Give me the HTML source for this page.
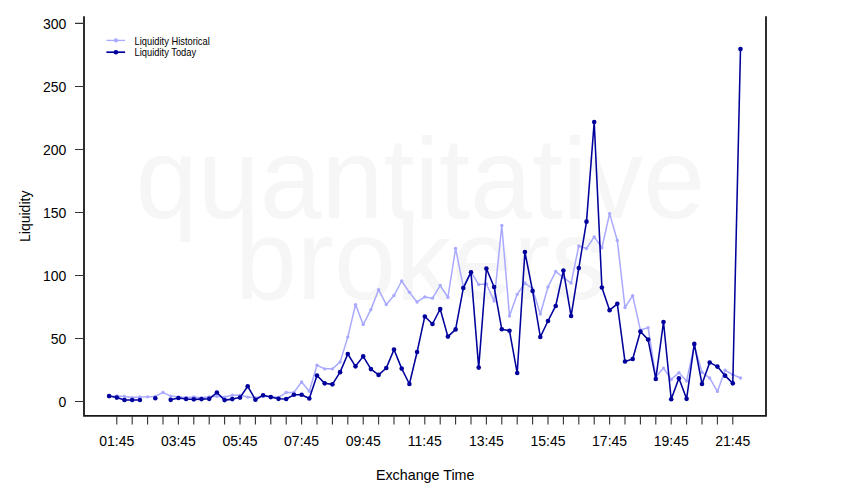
<!DOCTYPE html>
<html><head><meta charset="utf-8"><style>
html,body{margin:0;padding:0;background:#fff;}
body{width:850px;height:500px;overflow:hidden;}
svg{display:block;font-family:"Liberation Sans",sans-serif;}
</style></head><body>
<svg width="850" height="500" viewBox="0 0 850 500" font-family="Liberation Sans, sans-serif">
<rect width="850" height="500" fill="#fff"/>
<g fill="#f6f6f6" font-size="115" text-anchor="middle" transform="translate(420.5 0) scale(0.968 1)"><text x="0" y="218">quantitative</text><text x="0" y="299">brokers</text></g>
<path d="M84 16.2 V415.8 H766 V16.2" fill="none" stroke="#181818" stroke-width="1.8"/>
<path d="M75 401.50 H84 M75 338.49 H84 M75 275.47 H84 M75 212.46 H84 M75 149.44 H84 M75 86.43 H84 M75 23.41 H84 " stroke="#333" stroke-width="1.1"/>
<g font-size="14" text-anchor="end" fill="#000"><text x="66.4" y="407.00">0</text><text x="66.4" y="343.99">50</text><text x="66.4" y="280.97">100</text><text x="66.4" y="217.96">150</text><text x="66.4" y="154.94">200</text><text x="66.4" y="91.93">250</text><text x="66.4" y="28.91">300</text></g>
<path d="M116.80 415.8 V424.5 M132.20 415.8 V424.5 M147.60 415.8 V424.5 M163.00 415.8 V424.5 M178.40 415.8 V424.5 M193.80 415.8 V424.5 M209.20 415.8 V424.5 M224.60 415.8 V424.5 M240.00 415.8 V424.5 M255.40 415.8 V424.5 M270.80 415.8 V424.5 M286.20 415.8 V424.5 M301.60 415.8 V424.5 M317.00 415.8 V424.5 M332.40 415.8 V424.5 M347.80 415.8 V424.5 M363.20 415.8 V424.5 M378.60 415.8 V424.5 M394.00 415.8 V424.5 M409.40 415.8 V424.5 M424.80 415.8 V424.5 M440.20 415.8 V424.5 M455.60 415.8 V424.5 M471.00 415.8 V424.5 M486.40 415.8 V424.5 M501.80 415.8 V424.5 M517.20 415.8 V424.5 M532.60 415.8 V424.5 M548.00 415.8 V424.5 M563.40 415.8 V424.5 M578.80 415.8 V424.5 M594.20 415.8 V424.5 M609.60 415.8 V424.5 M625.00 415.8 V424.5 M640.40 415.8 V424.5 M655.80 415.8 V424.5 M671.20 415.8 V424.5 M686.60 415.8 V424.5 M702.00 415.8 V424.5 M717.40 415.8 V424.5 M732.80 415.8 V424.5 " stroke="#333" stroke-width="1.1"/>
<g font-size="14" text-anchor="middle" fill="#000"><text x="116.80" y="446">01:45</text><text x="178.40" y="446">03:45</text><text x="240.00" y="446">05:45</text><text x="301.60" y="446">07:45</text><text x="363.20" y="446">09:45</text><text x="424.80" y="446">11:45</text><text x="486.40" y="446">13:45</text><text x="548.00" y="446">15:45</text><text x="609.60" y="446">17:45</text><text x="671.20" y="446">19:45</text><text x="732.80" y="446">21:45</text></g>
<text x="425.2" y="480" font-size="14.3" text-anchor="middle">Exchange Time</text>
<text transform="translate(29.6 216.3) rotate(-90)" font-size="14" text-anchor="middle">Liquidity</text>
<path d="M109.10 396.46 L116.80 395.95 L124.50 396.46 L132.20 397.59 L139.90 396.96 L147.60 396.84 L155.30 396.46 L163.00 392.43 L170.70 396.08 L178.40 397.09 L186.10 397.47 L193.80 396.96 L201.50 397.85 L209.20 396.84 L216.90 396.21 L224.60 397.09 L232.30 395.20 L240.00 395.20 L247.70 397.09 L255.40 397.85 L263.10 396.21 L270.80 396.84 L278.50 397.34 L286.20 392.55 L293.90 392.43 L301.60 381.97 L309.30 391.29 L317.00 365.20 L324.70 368.86 L332.40 368.86 L340.10 362.05 L347.80 337.10 L355.50 304.58 L363.20 324.62 L370.90 309.62 L378.60 289.71 L386.30 304.58 L394.00 295.51 L401.70 281.02 L409.40 292.36 L417.10 301.94 L424.80 296.90 L432.50 298.16 L440.20 285.55 L447.90 297.27 L455.60 248.50 L463.30 286.81 L471.00 271.94 L478.70 284.54 L486.40 284.04 L494.10 301.05 L501.80 225.56 L509.50 316.05 L517.20 294.37 L524.90 283.03 L532.60 288.96 L540.30 314.04 L548.00 286.94 L555.70 271.56 L563.40 277.49 L571.10 283.03 L578.80 245.98 L586.50 248.50 L594.20 236.90 L601.90 247.74 L609.60 213.59 L617.30 240.43 L625.00 307.48 L632.70 295.63 L640.40 330.04 L648.10 327.65 L655.80 376.92 L663.50 368.10 L671.20 379.44 L678.90 372.64 L686.60 380.96 L694.30 345.42 L702.00 372.26 L709.70 378.06 L717.40 391.42 L725.10 370.24 L732.80 374.66 L740.50 378.06" fill="none" stroke="#a9a9ff" stroke-width="1.5" stroke-linejoin="round"/>
<g fill="#a9a9ff"><circle cx="109.10" cy="396.46" r="1.7"/><circle cx="116.80" cy="395.95" r="1.7"/><circle cx="124.50" cy="396.46" r="1.7"/><circle cx="132.20" cy="397.59" r="1.7"/><circle cx="139.90" cy="396.96" r="1.7"/><circle cx="147.60" cy="396.84" r="1.7"/><circle cx="155.30" cy="396.46" r="1.7"/><circle cx="163.00" cy="392.43" r="1.7"/><circle cx="170.70" cy="396.08" r="1.7"/><circle cx="178.40" cy="397.09" r="1.7"/><circle cx="186.10" cy="397.47" r="1.7"/><circle cx="193.80" cy="396.96" r="1.7"/><circle cx="201.50" cy="397.85" r="1.7"/><circle cx="209.20" cy="396.84" r="1.7"/><circle cx="216.90" cy="396.21" r="1.7"/><circle cx="224.60" cy="397.09" r="1.7"/><circle cx="232.30" cy="395.20" r="1.7"/><circle cx="240.00" cy="395.20" r="1.7"/><circle cx="247.70" cy="397.09" r="1.7"/><circle cx="255.40" cy="397.85" r="1.7"/><circle cx="263.10" cy="396.21" r="1.7"/><circle cx="270.80" cy="396.84" r="1.7"/><circle cx="278.50" cy="397.34" r="1.7"/><circle cx="286.20" cy="392.55" r="1.7"/><circle cx="293.90" cy="392.43" r="1.7"/><circle cx="301.60" cy="381.97" r="1.7"/><circle cx="309.30" cy="391.29" r="1.7"/><circle cx="317.00" cy="365.20" r="1.7"/><circle cx="324.70" cy="368.86" r="1.7"/><circle cx="332.40" cy="368.86" r="1.7"/><circle cx="340.10" cy="362.05" r="1.7"/><circle cx="347.80" cy="337.10" r="1.7"/><circle cx="355.50" cy="304.58" r="1.7"/><circle cx="363.20" cy="324.62" r="1.7"/><circle cx="370.90" cy="309.62" r="1.7"/><circle cx="378.60" cy="289.71" r="1.7"/><circle cx="386.30" cy="304.58" r="1.7"/><circle cx="394.00" cy="295.51" r="1.7"/><circle cx="401.70" cy="281.02" r="1.7"/><circle cx="409.40" cy="292.36" r="1.7"/><circle cx="417.10" cy="301.94" r="1.7"/><circle cx="424.80" cy="296.90" r="1.7"/><circle cx="432.50" cy="298.16" r="1.7"/><circle cx="440.20" cy="285.55" r="1.7"/><circle cx="447.90" cy="297.27" r="1.7"/><circle cx="455.60" cy="248.50" r="1.7"/><circle cx="463.30" cy="286.81" r="1.7"/><circle cx="471.00" cy="271.94" r="1.7"/><circle cx="478.70" cy="284.54" r="1.7"/><circle cx="486.40" cy="284.04" r="1.7"/><circle cx="494.10" cy="301.05" r="1.7"/><circle cx="501.80" cy="225.56" r="1.7"/><circle cx="509.50" cy="316.05" r="1.7"/><circle cx="517.20" cy="294.37" r="1.7"/><circle cx="524.90" cy="283.03" r="1.7"/><circle cx="532.60" cy="288.96" r="1.7"/><circle cx="540.30" cy="314.04" r="1.7"/><circle cx="548.00" cy="286.94" r="1.7"/><circle cx="555.70" cy="271.56" r="1.7"/><circle cx="563.40" cy="277.49" r="1.7"/><circle cx="571.10" cy="283.03" r="1.7"/><circle cx="578.80" cy="245.98" r="1.7"/><circle cx="586.50" cy="248.50" r="1.7"/><circle cx="594.20" cy="236.90" r="1.7"/><circle cx="601.90" cy="247.74" r="1.7"/><circle cx="609.60" cy="213.59" r="1.7"/><circle cx="617.30" cy="240.43" r="1.7"/><circle cx="625.00" cy="307.48" r="1.7"/><circle cx="632.70" cy="295.63" r="1.7"/><circle cx="640.40" cy="330.04" r="1.7"/><circle cx="648.10" cy="327.65" r="1.7"/><circle cx="655.80" cy="376.92" r="1.7"/><circle cx="663.50" cy="368.10" r="1.7"/><circle cx="671.20" cy="379.44" r="1.7"/><circle cx="678.90" cy="372.64" r="1.7"/><circle cx="686.60" cy="380.96" r="1.7"/><circle cx="694.30" cy="345.42" r="1.7"/><circle cx="702.00" cy="372.26" r="1.7"/><circle cx="709.70" cy="378.06" r="1.7"/><circle cx="717.40" cy="391.42" r="1.7"/><circle cx="725.10" cy="370.24" r="1.7"/><circle cx="732.80" cy="374.66" r="1.7"/><circle cx="740.50" cy="378.06" r="1.7"/></g>
<path d="M109.10 396.08 L116.80 397.59 L124.50 399.99 L132.20 399.99 L139.90 399.99 M170.70 399.86 L178.40 397.97 L186.10 398.98 L193.80 399.36 L201.50 399.11 L209.20 398.85 L216.90 392.55 L224.60 400.11 L232.30 399.11 L240.00 397.59 L247.70 386.25 L255.40 399.74 L263.10 395.20 L270.80 397.09 L278.50 398.85 L286.20 398.98 L293.90 394.82 L301.60 394.82 L309.30 398.48 L317.00 375.54 L324.70 383.35 L332.40 384.36 L340.10 372.14 L347.80 353.99 L355.50 366.34 L363.20 356.38 L370.90 369.11 L378.60 374.91 L386.30 367.98 L394.00 349.58 L401.70 368.61 L409.40 383.98 L417.10 351.97 L424.80 316.43 L432.50 323.99 L440.20 308.99 L447.90 336.59 L455.60 329.41 L463.30 288.07 L471.00 272.19 L478.70 367.60 L486.40 268.54 L494.10 286.94 L501.80 329.28 L509.50 330.80 L517.20 373.02 L524.90 252.03 L532.60 290.97 L540.30 336.97 L548.00 320.97 L555.70 305.97 L563.40 270.55 L571.10 316.05 L578.80 268.03 L586.50 221.66 L594.20 121.97 L601.90 287.57 L609.60 310.13 L617.30 303.83 L625.00 361.55 L632.70 359.03 L640.40 331.55 L648.10 339.62 L655.80 378.94 L663.50 321.98 L671.20 399.23 L678.90 378.31 L686.60 398.85 L694.30 343.90 L702.00 383.98 L709.70 362.43 L717.40 366.59 L725.10 375.66 L732.80 383.35 L740.50 48.99" fill="none" stroke="#00009c" stroke-width="1.55" stroke-linejoin="round"/>
<g fill="#00009c"><circle cx="109.10" cy="396.08" r="2.3"/><circle cx="116.80" cy="397.59" r="2.3"/><circle cx="124.50" cy="399.99" r="2.3"/><circle cx="132.20" cy="399.99" r="2.3"/><circle cx="139.90" cy="399.99" r="2.3"/><circle cx="155.30" cy="398.22" r="2.3"/><circle cx="170.70" cy="399.86" r="2.3"/><circle cx="178.40" cy="397.97" r="2.3"/><circle cx="186.10" cy="398.98" r="2.3"/><circle cx="193.80" cy="399.36" r="2.3"/><circle cx="201.50" cy="399.11" r="2.3"/><circle cx="209.20" cy="398.85" r="2.3"/><circle cx="216.90" cy="392.55" r="2.3"/><circle cx="224.60" cy="400.11" r="2.3"/><circle cx="232.30" cy="399.11" r="2.3"/><circle cx="240.00" cy="397.59" r="2.3"/><circle cx="247.70" cy="386.25" r="2.3"/><circle cx="255.40" cy="399.74" r="2.3"/><circle cx="263.10" cy="395.20" r="2.3"/><circle cx="270.80" cy="397.09" r="2.3"/><circle cx="278.50" cy="398.85" r="2.3"/><circle cx="286.20" cy="398.98" r="2.3"/><circle cx="293.90" cy="394.82" r="2.3"/><circle cx="301.60" cy="394.82" r="2.3"/><circle cx="309.30" cy="398.48" r="2.3"/><circle cx="317.00" cy="375.54" r="2.3"/><circle cx="324.70" cy="383.35" r="2.3"/><circle cx="332.40" cy="384.36" r="2.3"/><circle cx="340.10" cy="372.14" r="2.3"/><circle cx="347.80" cy="353.99" r="2.3"/><circle cx="355.50" cy="366.34" r="2.3"/><circle cx="363.20" cy="356.38" r="2.3"/><circle cx="370.90" cy="369.11" r="2.3"/><circle cx="378.60" cy="374.91" r="2.3"/><circle cx="386.30" cy="367.98" r="2.3"/><circle cx="394.00" cy="349.58" r="2.3"/><circle cx="401.70" cy="368.61" r="2.3"/><circle cx="409.40" cy="383.98" r="2.3"/><circle cx="417.10" cy="351.97" r="2.3"/><circle cx="424.80" cy="316.43" r="2.3"/><circle cx="432.50" cy="323.99" r="2.3"/><circle cx="440.20" cy="308.99" r="2.3"/><circle cx="447.90" cy="336.59" r="2.3"/><circle cx="455.60" cy="329.41" r="2.3"/><circle cx="463.30" cy="288.07" r="2.3"/><circle cx="471.00" cy="272.19" r="2.3"/><circle cx="478.70" cy="367.60" r="2.3"/><circle cx="486.40" cy="268.54" r="2.3"/><circle cx="494.10" cy="286.94" r="2.3"/><circle cx="501.80" cy="329.28" r="2.3"/><circle cx="509.50" cy="330.80" r="2.3"/><circle cx="517.20" cy="373.02" r="2.3"/><circle cx="524.90" cy="252.03" r="2.3"/><circle cx="532.60" cy="290.97" r="2.3"/><circle cx="540.30" cy="336.97" r="2.3"/><circle cx="548.00" cy="320.97" r="2.3"/><circle cx="555.70" cy="305.97" r="2.3"/><circle cx="563.40" cy="270.55" r="2.3"/><circle cx="571.10" cy="316.05" r="2.3"/><circle cx="578.80" cy="268.03" r="2.3"/><circle cx="586.50" cy="221.66" r="2.3"/><circle cx="594.20" cy="121.97" r="2.3"/><circle cx="601.90" cy="287.57" r="2.3"/><circle cx="609.60" cy="310.13" r="2.3"/><circle cx="617.30" cy="303.83" r="2.3"/><circle cx="625.00" cy="361.55" r="2.3"/><circle cx="632.70" cy="359.03" r="2.3"/><circle cx="640.40" cy="331.55" r="2.3"/><circle cx="648.10" cy="339.62" r="2.3"/><circle cx="655.80" cy="378.94" r="2.3"/><circle cx="663.50" cy="321.98" r="2.3"/><circle cx="671.20" cy="399.23" r="2.3"/><circle cx="678.90" cy="378.31" r="2.3"/><circle cx="686.60" cy="398.85" r="2.3"/><circle cx="694.30" cy="343.90" r="2.3"/><circle cx="702.00" cy="383.98" r="2.3"/><circle cx="709.70" cy="362.43" r="2.3"/><circle cx="717.40" cy="366.59" r="2.3"/><circle cx="725.10" cy="375.66" r="2.3"/><circle cx="732.80" cy="383.35" r="2.3"/><circle cx="740.50" cy="48.99" r="2.3"/></g>
<path d="M106.4 40.4 H125.1" stroke="#a9a9ff" stroke-width="1.3"/><circle cx="115.9" cy="40.4" r="2.1" fill="#a9a9ff"/>
<path d="M106.4 52.2 H125.1" stroke="#00009c" stroke-width="1.7"/><circle cx="115.9" cy="52.2" r="2.3" fill="#00009c"/>
<g font-size="10.5" fill="#000" transform="translate(134.6 0) scale(0.89 1)"><text x="0" y="44.8">Liquidity Historical</text><text x="0" y="55.8">Liquidity Today</text></g>
</svg>
</body></html>
